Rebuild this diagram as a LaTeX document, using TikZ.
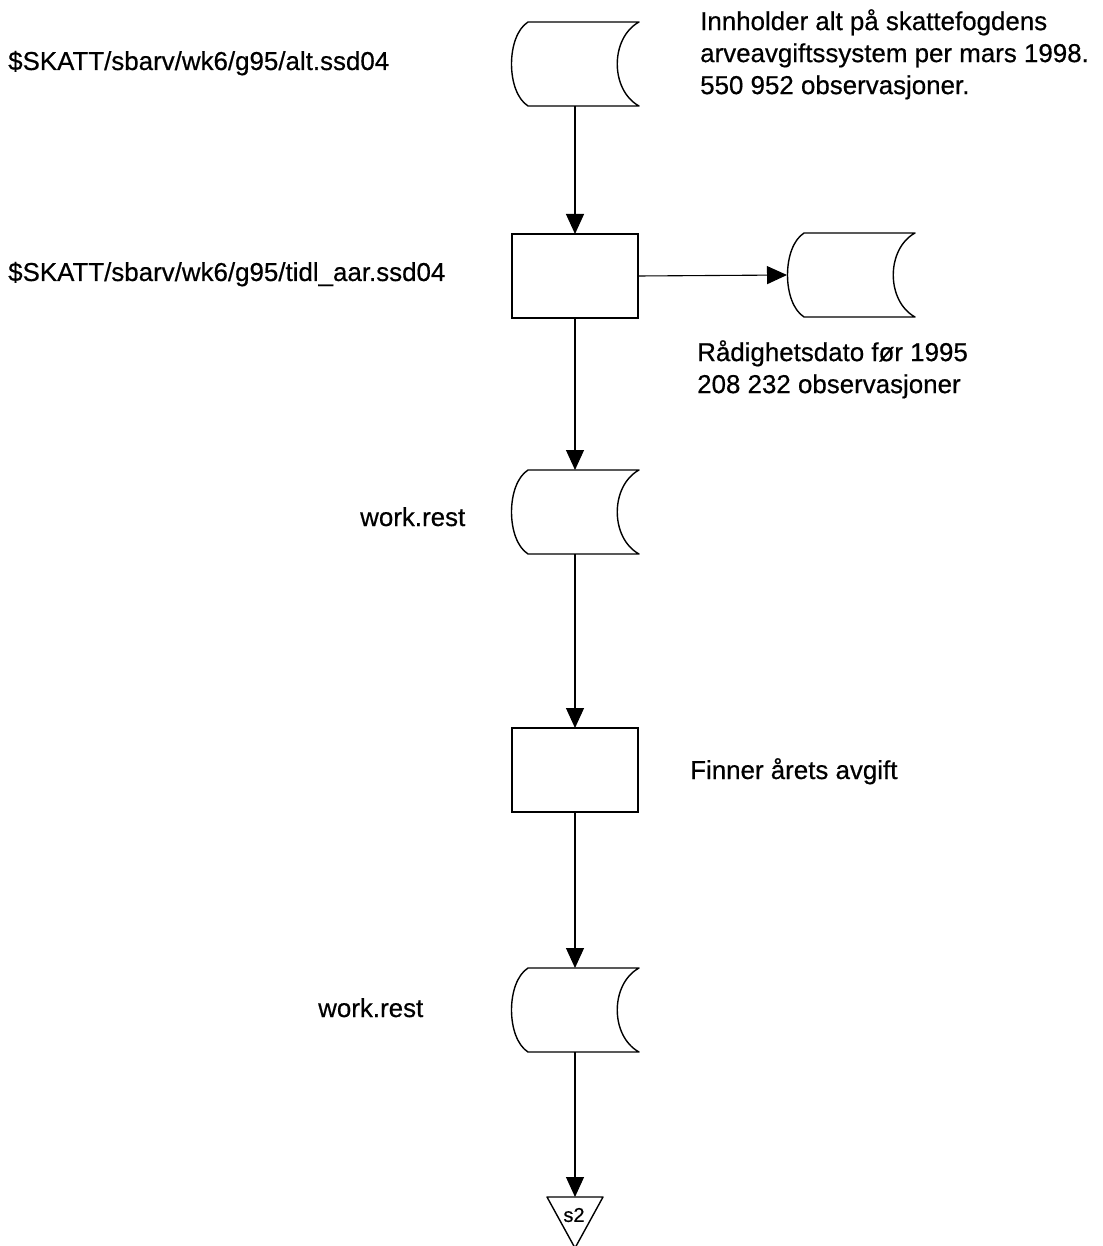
\documentclass[tikz,border=0pt]{standalone}
\usepackage{fontspec}
\setmainfont{Liberation Sans}[FakeBold=0.5]
\usetikzlibrary{arrows.meta,calc}
\newcommand\drawstore[1]{%
  \draw[shapeline] ([xshift=17pt]#1.south west) .. controls ([xshift=-5pt,yshift=14pt]#1.south west) and ([xshift=-5pt,yshift=-14pt]#1.north west) .. ([xshift=17pt]#1.north west)
    -- (#1.north east) .. controls ([xshift=-29pt,yshift=-16pt]#1.north east) and ([xshift=-29pt,yshift=16pt]#1.south east) .. (#1.south east) -- cycle;}
\tikzset{
  shapeline/.style={line width=1.4pt, line join=round},
  storebox/.style={draw=none, minimum width=128pt, minimum height=84pt, inner sep=0pt, outer sep=0pt},
  procbox/.style={draw, line width=1.4pt, minimum width=126pt, minimum height=84pt, inner sep=0pt, outer sep=0pt},
  flow/.style={line width=1.1pt, -{Triangle[width=18pt,length=20pt]}},
  lbl/.style={font=\fontsize{25.9}{32}\selectfont, inner sep=0pt, align=left},
}
\begin{document}
\begin{tikzpicture}[x=1pt,y=-1pt]
\useasboundingbox (0,0) rectangle (1102,1246);
\fill[white] (0,0) rectangle (1102,1246);
% shapes
\node[storebox] (c1) at (575,64) {};
\drawstore{c1}
\node[procbox] (p1) at (575,276) {};
\node[storebox] (c2) at (851,275) {};
\drawstore{c2}
\node[storebox] (c3) at (575,512) {};
\drawstore{c3}
\node[procbox] (p2) at (575,770) {};
\node[storebox] (c4) at (575,1010) {};
\drawstore{c4}
\coordinate (s2top) at (575,1197);
\draw[shapeline] (547,1197) -- (603,1197) -- (575,1248) -- cycle;
\node[font=\fontsize{20}{22}\selectfont, inner sep=0pt] (s2) at (574,1215) {s2};
% connectors
\draw[flow] (c1.south) -- (p1.north);
\draw[flow] (p1.east) -- (c2.west);
\draw[flow] (p1.south) -- (c3.north);
\draw[flow] (c3.south) -- (p2.north);
\draw[flow] (p2.south) -- (c4.north);
\draw[flow] (c4.south) -- (s2top);
% labels
\node[lbl, anchor=base west] (t1) at (8,70) {\$SKATT/sbarv/wk6/g95/alt.ssd04};
\node[lbl, anchor=base west] (t2) at (8,281) {\$SKATT/sbarv/wk6/g95/tidl\_aar.ssd04};
\node[lbl, anchor=north west] (t3) at (700,9) {Innholder alt på skattefogdens\\arveavgiftssystem per mars 1998.\\550 952 observasjoner.};
\node[lbl, anchor=north west] (t4) at (697,340) {Rådighetsdato før 1995\\208 232 observasjoner};
\node[lbl, anchor=base west] (t5) at (360,526) {work.rest};
\node[lbl, anchor=base west] (t6) at (690,779) {Finner årets avgift};
\node[lbl, anchor=base west] (t7) at (318,1017) {work.rest};
\end{tikzpicture}
\end{document}
